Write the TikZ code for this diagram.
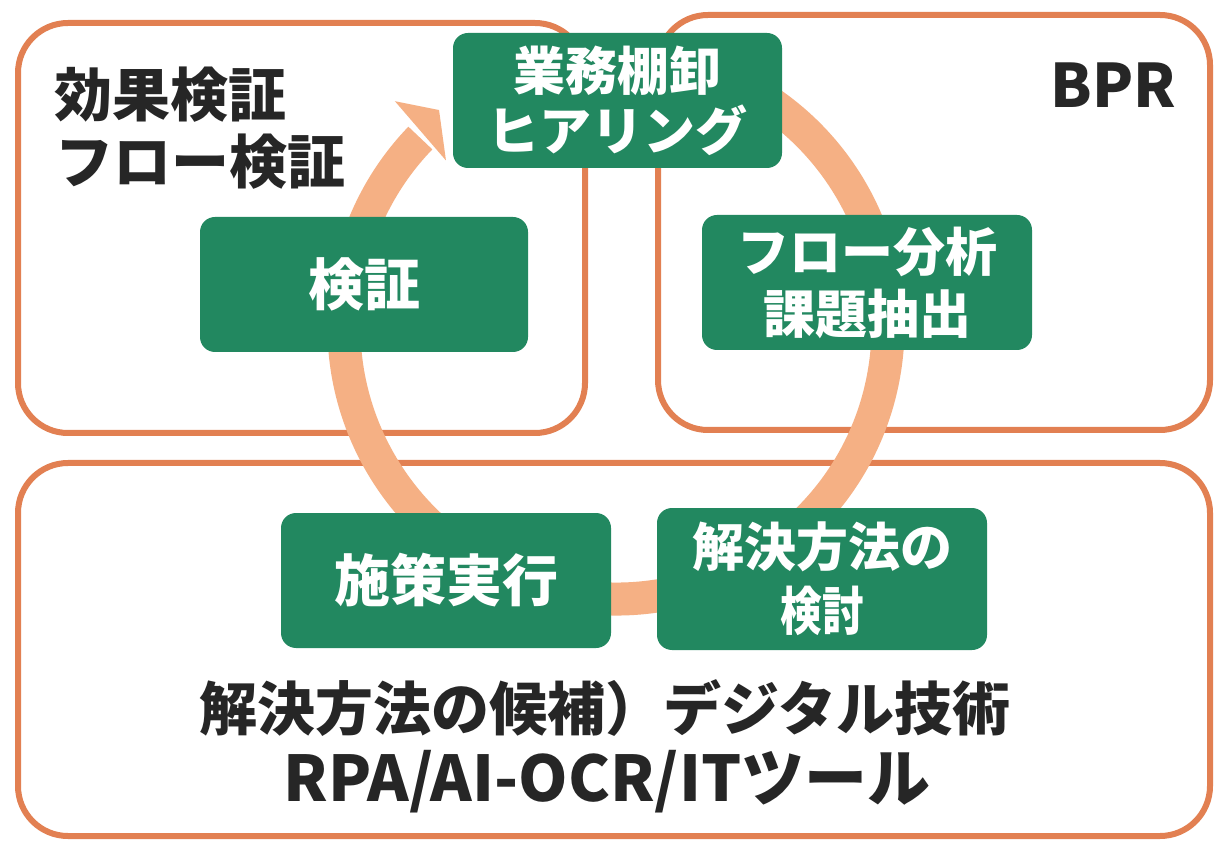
\documentclass[tikz,border=0pt]{standalone}
\usepackage{fontspec}
\newfontfamily\jp{Noto Sans CJK JP}
\usetikzlibrary{calc}
\definecolor{frameorange}{RGB}{226,128,82}
\definecolor{arcorange}{RGB}{245,176,132}
\definecolor{boxgreen}{RGB}{34,136,96}
\definecolor{txtdark}{RGB}{38,38,38}
\tikzset{
  frame/.style={draw=frameorange, line width=6pt, rounded corners=50pt},
  cyclearc/.style={draw=arcorange, line width=33pt},
  headfill/.style={fill=arcorange},
  stepbox/.style={fill=boxgreen, rounded corners=15pt, inner sep=0pt,
    text=white, align=center, font=\jp\bfseries\fontsize{52}{60}\selectfont},
  label/.style={text=txtdark, inner sep=0pt, font=\jp\bfseries\fontsize{58}{67}\selectfont}
}
\begin{document}
\begin{tikzpicture}[x=1pt,y=1pt]
\useasboundingbox (0,0) rectangle (1217,844);
\fill[white] (0,0) rectangle (1217,844);
% frames
\draw[frame] (18,411) rectangle (585,821);
\draw[frame] (658,414) rectangle (1210,829);
\draw[frame] (18,8) rectangle (1210,381);
% cycle arc
\coordinate (C) at (616,517);
\coordinate (arcstart) at ($(C)+(80:272)$);
\draw[cyclearc] (arcstart) arc[start angle=80, end angle=-224, radius=272];
\coordinate (hb1) at ($(C)+(134.4:316)$);
\coordinate (htip) at ($(C)+(129.2:280)$);
\coordinate (hb2) at ($(C)+(135.6:238)$);
\fill[headfill] (hb1) -- (htip) -- (hb2) -- cycle;
% green boxes
\node[stepbox, minimum width=329pt, minimum height=135pt] (top) at (617.5,743.5) {業務棚卸\\ヒアリング};
\node[stepbox, minimum width=328pt, minimum height=135pt, font=\jp\bfseries\fontsize{56}{60}\selectfont] (verify) at (364,559.5) {検証};
\node[stepbox, minimum width=330pt, minimum height=135pt, font=\jp\bfseries\fontsize{52}{62}\selectfont] (flow) at (867,561.5) {フロー分析\\課題抽出};
\node[stepbox, minimum width=330pt, minimum height=135pt, font=\jp\bfseries\fontsize{56}{60}\selectfont] (exec) at (446,263.5) {施策実行};
\node[stepbox, minimum width=330pt, minimum height=142pt, font=\jp\bfseries\fontsize{52}{64}\selectfont] (solve) at (822,265) {解決方法の\\\scalebox{0.8}[1]{検討}};
% labels
\node[label, anchor=west] (effect1) at (54,749) {効果検証};
\node[label, anchor=west] (effect2) at (55,682) {フロー検証};
\node[label, anchor=east, font=\jp\bfseries\fontsize{60}{66}\selectfont] (bpr) at (1176,759) {BPR};
\node[label] (cand1) at (605,136) {解決方法の候補）デジタル技術};
\node[label, font=\jp\bfseries\fontsize{63}{67}\selectfont] (cand2) at (607,62) {RPA/AI-OCR/ITツール};
\end{tikzpicture}
\end{document}
